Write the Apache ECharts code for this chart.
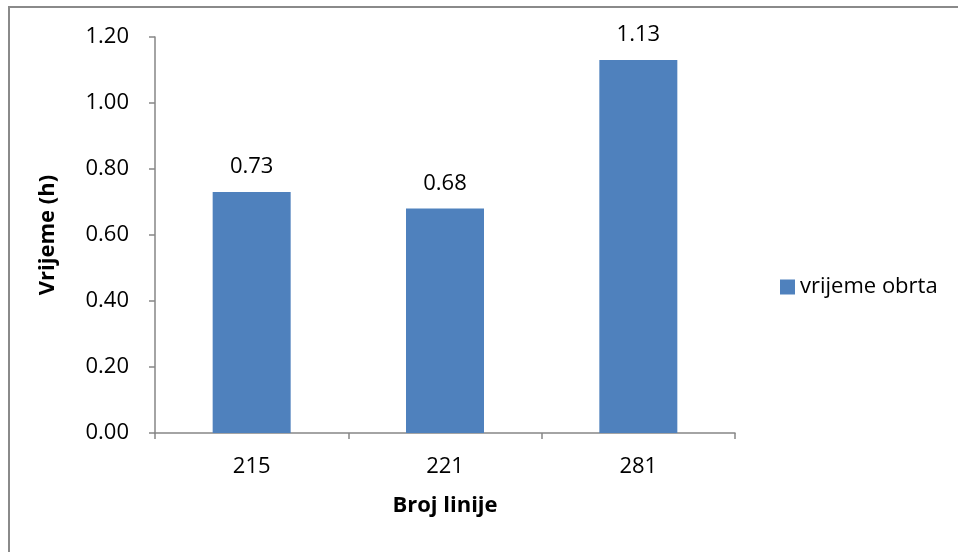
<!DOCTYPE html>
<html><head><meta charset="utf-8">
<script src="https://cdn.jsdelivr.net/npm/echarts@6/dist/echarts.min.js"></script>
<style>
html,body{margin:0;padding:0;background:#fff;overflow:hidden}
#frame{position:absolute;left:8px;top:6px;width:980px;height:580px;border:2px solid #8a8a8a;box-sizing:border-box}
#c{position:absolute;left:0;top:0;width:958px;height:552px}
</style></head><body>
<div id="frame"></div>
<div id="c"></div>
<script>
const categories = ['215', '221', '281'];
const values = [0.73, 0.68, 1.13];
const seriesName = 'vrijeme obrta';
const yTitle = 'Vrijeme (h)';
const xTitle = 'Broj linije';

const chart = echarts.init(document.getElementById('c'), null, {renderer: 'canvas'});
const font = '"Open Sans", Lato, sans-serif';
chart.setOption({
  animation: false,
  textStyle: {fontFamily: font},
  legend: {
    orient: 'vertical', left: 775, top: 271,
    itemWidth: 15, itemHeight: 15, itemGap: 8,
    textStyle: {fontSize: 22, color: '#000', fontFamily: font},
    data: [{name: seriesName, icon: 'rect'}]
  },
  grid: {left: 155, right: 223, top: 37, bottom: 119},
  xAxis: {
    type: 'category', data: categories,
    name: xTitle, nameLocation: 'middle', nameGap: 62,
    nameTextStyle: {fontSize: 22, fontWeight: 'bold', color: '#000', fontFamily: font},
    axisLine: {lineStyle: {color: '#868686', width: 1.5}},
    axisTick: {show: true, length: 6, lineStyle: {color: '#868686', width: 1.5}},
    axisLabel: {fontSize: 22, color: '#000', margin: 23, fontFamily: font}
  },
  yAxis: {
    type: 'value', min: 0, max: 1.2, interval: 0.2,
    name: yTitle, nameLocation: 'middle', nameGap: 96, nameRotate: 90,
    nameTextStyle: {fontSize: 22, fontWeight: 'bold', color: '#000', fontFamily: font},
    axisLine: {show: true, lineStyle: {color: '#868686', width: 1.5}},
    axisTick: {show: true, length: 6, lineStyle: {color: '#868686', width: 1.5}},
    splitLine: {show: false},
    axisLabel: {fontSize: 22, color: '#000', margin: 26, fontFamily: font,
      formatter: v => v.toFixed(2)}
  },
  series: [{
    name: seriesName, type: 'bar', data: values, barWidth: 78,
    itemStyle: {color: '#4F81BD'},
    label: {show: true, position: 'top', distance: 14, fontSize: 22, color: '#000', fontFamily: font,
      formatter: p => p.value.toFixed(2)}
  }]
});
</script>
</body></html>
